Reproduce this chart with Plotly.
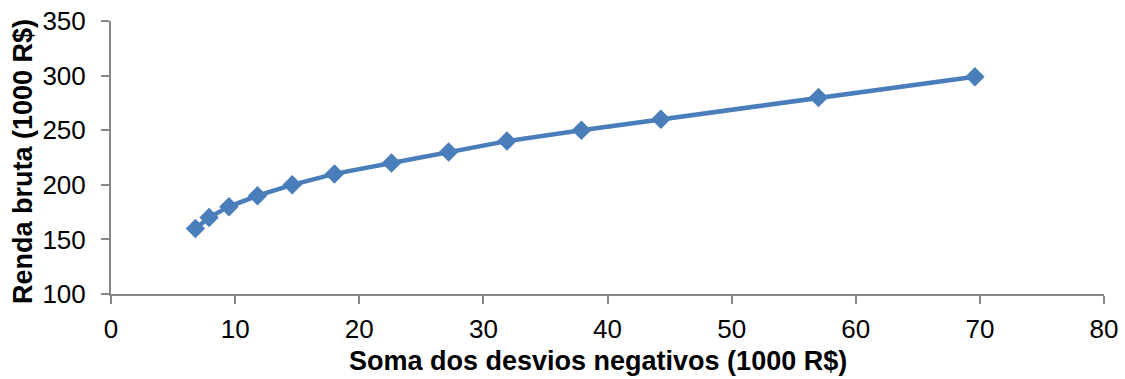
import plotly.graph_objects as go

# Soma dos desvios negativos (1000 R$) vs renda bruta (1000 R$)
desvios = [6.8, 7.9, 9.5, 11.8, 14.6, 18.0, 22.6, 27.2, 31.9, 37.9, 44.3, 57.0, 69.6]
renda = [160, 170, 180, 190, 200, 210, 220, 230, 240, 250, 260, 280, 299]

x_ticks = [0, 10, 20, 30, 40, 50, 60, 70, 80]
y_ticks = [100, 150, 200, 250, 300, 350]

x_title = "<b>Soma dos desvios negativos (1000 R$)</b>"
y_title = "<b>Renda bruta (1000 R$)</b>"

blue = "#4A7EBB"
axis_grey = "#878787"
font_family = "Liberation Sans, Arial, sans-serif"

fig = go.Figure(
    go.Scatter(
        x=desvios,
        y=renda,
        mode="lines+markers",
        line=dict(color=blue, width=4.5),
        marker=dict(symbol="diamond", size=15, color=blue),
        showlegend=False,
    )
)

fig.update_layout(
    width=1125,
    height=379,
    margin=dict(l=111, r=21, t=21, b=85),
    paper_bgcolor="white",
    plot_bgcolor="white",
    font=dict(family=font_family, size=26, color="black"),
)

axis_style = dict(
    showgrid=False,
    zeroline=False,
    showline=True,
    linecolor=axis_grey,
    linewidth=2,
    ticks="outside",
    ticklen=8,
    tickwidth=2,
    tickcolor=axis_grey,
    tickfont=dict(size=26),
    automargin=False,
)

fig.update_xaxes(range=[0, 80], tickvals=x_ticks, ticklabelstandoff=3, **axis_style)
fig.update_yaxes(range=[100, 350], tickvals=y_ticks, ticklabelstandoff=10, **axis_style)

# Axis titles placed relative to the plotting area
fig.add_annotation(
    text=x_title, xref="paper", yref="paper", x=0.4904, y=-0.2454,
    xanchor="center", yanchor="middle", showarrow=False,
    font=dict(size=27, family=font_family),
)
fig.add_annotation(
    text=y_title, xref="paper", yref="paper", x=-0.0886, y=0.4835,
    xanchor="center", yanchor="middle", showarrow=False, textangle=-90,
    font=dict(size=27, family=font_family),
)

fig.write_html("out.html")
